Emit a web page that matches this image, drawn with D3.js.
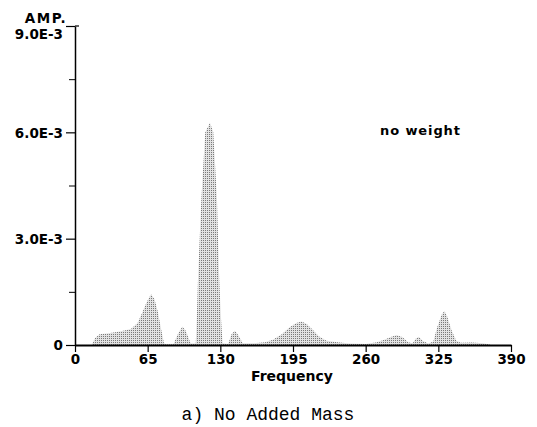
<!DOCTYPE html>
<html>
<head>
<meta charset="utf-8">
<script src="https://cdn.jsdelivr.net/npm/d3@7"></script>
<style>
  body { margin: 0; background: #fff; }
  svg { display: block; }
  .tick text { font-family: "DejaVu Sans", sans-serif; font-weight: bold; fill: #000; }
</style>
</head>
<body>
<svg id="chart"></svg>
<script>
// spectrum (frequency, amplitude)
const freq = [0, 15, 18, 22, 30, 40, 50, 56, 60, 64, 68, 71, 74, 77, 79.6, 81, 88, 92, 96, 99, 103.5,
  108, 109, 110, 113, 116.5, 120.7, 123.7, 127, 129, 130.5, 132, 137, 140, 143, 146, 150,
  160, 170, 177, 185, 192, 198, 202.7, 207, 212, 218, 225, 235, 245, 260, 270, 276, 282,
  287.7, 293, 298, 302, 305, 307.5, 311, 316, 320.5, 324, 328, 330.4, 333, 337, 341,
  345, 355, 365, 370, 372, 390];
const amp = [0, 0, 0.2, 0.3, 0.33, 0.38, 0.45, 0.62, 0.9, 1.2, 1.43, 1.3, 0.95, 0.45, 0.05, 0.02, 0.02, 0.3, 0.52, 0.4, 0.04,
  0.04, 0.8, 1.84, 4.1, 6.0, 6.27, 6.0, 4.1, 1.84, 0.8, 0.05, 0.03, 0.3, 0.4, 0.28, 0.05,
  0.05, 0.08, 0.15, 0.3, 0.5, 0.62, 0.66, 0.6, 0.45, 0.25, 0.12, 0.08, 0.04, 0.03, 0.08, 0.14, 0.22,
  0.28, 0.22, 0.08, 0.05, 0.18, 0.23, 0.12, 0.04, 0.1, 0.5, 0.85, 0.96, 0.8, 0.4, 0.12,
  0.06, 0.07, 0.05, 0.02, 0, 0].map(v => v * 1e-3);

const xTicks = [0, 65, 130, 195, 260, 325, 390];
const yTicks = [0, 3e-3, 6e-3, 9e-3];
const yMinor = [1.5e-3, 4.5e-3, 7.5e-3];
const yLabels = ['0', '3.0E-3', '6.0E-3', '9.0E-3'];

const width = 537, height = 427;
const marginLeft = 75, marginRight = 26, marginTop = 26, marginBottom = 82;
const innerW = width - marginLeft - marginRight;
const innerH = height - marginTop - marginBottom;

const svg = d3.select('#chart')
  .attr('width', width)
  .attr('height', height);

// halftone-ish fill, like the scanned print
const pat = svg.append('defs').append('pattern')
  .attr('id', 'dots')
  .attr('width', 2).attr('height', 2)
  .attr('patternUnits', 'userSpaceOnUse');
pat.append('rect').attr('width', 2).attr('height', 2).attr('fill', '#e2e2e2');
pat.append('rect').attr('width', 1).attr('height', 1).attr('fill', '#7a7a7a');

const bounds = svg.append('g')
  .attr('transform', `translate(${marginLeft},${marginTop})`);

const x = d3.scaleLinear().domain([0, 390]).range([0, innerW]);
const y = d3.scaleLinear().domain([0, 9e-3]).range([innerH, 0]);

const data = freq.map((f, i) => ({ f, a: amp[i] }));

const area = d3.area()
  .x(d => x(d.f))
  .y0(y(0))
  .y1(d => y(d.a));

bounds.append('path')
  .datum(data)
  .attr('fill', 'url(#dots)')
  .attr('d', area);

// Y axis
const yAxis = bounds.append('g')
  .call(d3.axisLeft(y)
    .tickValues(yTicks)
    .tickSize(9)
    .tickSizeOuter(0)
    .tickPadding(3)
    .tickFormat((d, i) => yLabels[i]));
yAxis.select('.domain').attr('stroke-width', 1.5);
yAxis.selectAll('.tick line').attr('stroke-width', 1.2);
yAxis.selectAll('.tick text')
  .style('font-size', '13.5px')
  .attr('dy', (d, i) => i === yTicks.length - 1 ? '0.95em' : '0.36em');

bounds.append('g')
  .call(d3.axisLeft(y).tickValues(yMinor).tickSize(6).tickSizeOuter(0).tickFormat(''))
  .call(g => g.select('.domain').remove());

// small cap at the top of the y axis
bounds.append('line')
  .attr('x1', 0).attr('x2', 4)
  .attr('y1', y(9e-3)).attr('y2', y(9e-3))
  .attr('stroke', '#000').attr('stroke-width', 1.2);

// X axis
const xAxis = bounds.append('g')
  .attr('transform', `translate(0,${innerH})`)
  .call(d3.axisBottom(x)
    .tickValues(xTicks)
    .tickSize(7)
    .tickSizeOuter(0)
    .tickPadding(2));
xAxis.select('.domain').attr('stroke-width', 2);
xAxis.selectAll('.tick line').attr('stroke-width', 1.2);
xAxis.selectAll('.tick text')
  .style('font-size', '13.5px');

// titles
svg.append('text')
  .attr('x', 46).attr('y', 23)
  .attr('text-anchor', 'middle')
  .style('font-family', '"DejaVu Sans", sans-serif')
  .style('font-weight', 'bold')
  .style('font-size', '13.5px')
  .style('letter-spacing', '1.5px')
  .text('AMP.');

svg.append('text')
  .attr('x', 292).attr('y', 381)
  .attr('text-anchor', 'middle')
  .style('font-family', '"DejaVu Sans", sans-serif')
  .style('font-weight', 'bold')
  .style('font-size', '14px')
  .text('Frequency');

svg.append('text')
  .attr('x', 380).attr('y', 135)
  .style('font-family', '"DejaVu Sans", sans-serif')
  .style('font-weight', 'bold')
  .style('font-size', '13px')
  .style('letter-spacing', '0.9px')
  .text('no weight');

svg.append('text')
  .attr('x', 268).attr('y', 420)
  .attr('text-anchor', 'middle')
  .style('font-family', '"Liberation Mono", "Courier New", monospace')
  .style('font-size', '18px')
  .text('a) No Added Mass');
</script>
</body>
</html>
